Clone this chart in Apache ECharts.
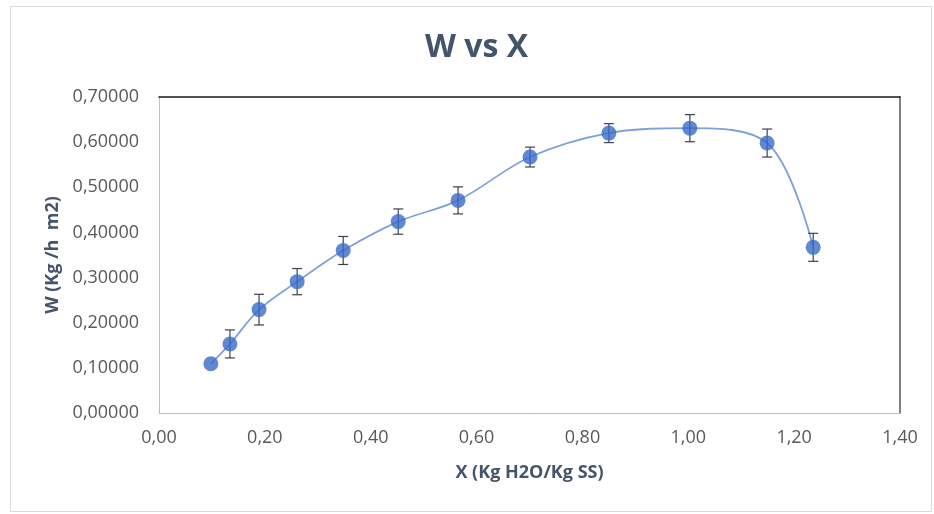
<!DOCTYPE html>
<html>
<head>
<meta charset="utf-8">
<script src="https://cdn.jsdelivr.net/npm/echarts@6/dist/echarts.min.js"></script>
<style>html,body{margin:0;padding:0;background:#fff}#c{width:934px;height:514px}</style>
</head>
<body>
<div id="c"></div>
<script>
var xVals = [0.098, 0.134, 0.189, 0.261, 0.348, 0.452, 0.565, 0.701, 0.850, 1.003, 1.149, 1.236];
var wVals = [0.109, 0.153, 0.229, 0.291, 0.360, 0.424, 0.471, 0.567, 0.620, 0.631, 0.598, 0.367];
var wErr  = [0.000, 0.031, 0.034, 0.029, 0.031, 0.028, 0.030, 0.022, 0.021, 0.030, 0.031, 0.031];
var xTicks = [0, 0.2, 0.4, 0.6, 0.8, 1.0, 1.2, 1.4];
var yTicks = [0, 0.1, 0.2, 0.3, 0.4, 0.5, 0.6, 0.7];

var pts = xVals.map(function (x, i) { return [x, wVals[i]]; });
var errData = xVals.map(function (x, i) { return [x, wVals[i] - wErr[i], wVals[i] + wErr[i]]; });

var chart = echarts.init(document.getElementById('c'));
var labelColor = '#595959';
var nameColor = '#44546A';
var font = 'Open Sans';
chart.setOption({
  animation: false,
  title: {
    text: 'W vs X', left: 420, top: 27,
    textStyle: { fontFamily: font, fontSize: 32, fontWeight: 'bold', color: nameColor }
  },
  graphic: [{
    type: 'rect', shape: { x: 10.5, y: 6.5, width: 921, height: 505 },
    style: { fill: 'none', stroke: '#d9d9d9', lineWidth: 1 }, silent: true
  }],
  grid: { left: 159, right: 34, top: 97, bottom: 101 },
  xAxis: [{
    type: 'value', min: 0, max: 1.4, interval: 0.2,
    name: 'X (Kg H2O/Kg SS)', nameLocation: 'middle', nameGap: 51,
    nameTextStyle: { fontFamily: font, fontSize: 18, fontWeight: 'bold', color: nameColor },
    axisLine: { show: true, lineStyle: { color: '#b4bfd4', width: 1 } },
    axisTick: { show: false }, splitLine: { show: false },
    axisLabel: { fontFamily: font, fontSize: 18, color: labelColor, margin: 16,
      formatter: function (v) { return v.toFixed(2).replace('.', ','); } }
  }, {
    type: 'value', position: 'top', min: 0, max: 1.4,
    axisLine: { show: true, onZero: false, lineStyle: { color: '#1a1a1a', width: 1.5 } },
    axisTick: { show: false }, axisLabel: { show: false }, splitLine: { show: false }
  }],
  yAxis: [{
    type: 'value', min: 0, max: 0.7, interval: 0.1,
    name: 'W (Kg /h  m2)', nameLocation: 'middle', nameGap: 97,
    nameTextStyle: { fontFamily: font, fontSize: 18, fontWeight: 'bold', color: nameColor },
    axisLine: { show: true, lineStyle: { color: '#b4bfd4', width: 1 } },
    axisTick: { show: false }, splitLine: { show: false },
    axisLabel: { fontFamily: font, fontSize: 18, color: labelColor, margin: 20,
      formatter: function (v) { return v.toFixed(5).replace('.', ','); } }
  }, {
    type: 'value', position: 'right', min: 0, max: 0.7,
    axisLine: { show: true, onZero: false, lineStyle: { color: '#555555', width: 1.5 } },
    axisTick: { show: false }, axisLabel: { show: false }, splitLine: { show: false }
  }],
  series: [{
    type: 'line', data: pts, smooth: 0.35,
    lineStyle: { color: '#7fa0dc', width: 1.8 },
    symbol: 'none', z: 2
  }, {
    type: 'custom', data: errData, z: 3,
    renderItem: function (params, api) {
      var x = api.value(0), lo = api.value(1), hi = api.value(2);
      if (hi - lo <= 0) return;
      var pLo = api.coord([x, lo]), pHi = api.coord([x, hi]);
      var cw = 5;
      var st = { stroke: '#3b4252', lineWidth: 1.2 };
      return { type: 'group', children: [
        { type: 'line', shape: { x1: pLo[0], y1: pLo[1], x2: pHi[0], y2: pHi[1] }, style: st },
        { type: 'line', shape: { x1: pLo[0] - cw, y1: pLo[1], x2: pLo[0] + cw, y2: pLo[1] }, style: st },
        { type: 'line', shape: { x1: pHi[0] - cw, y1: pHi[1], x2: pHi[0] + cw, y2: pHi[1] }, style: st }
      ] };
    }
  }, {
    type: 'scatter', data: pts, symbol: 'circle', symbolSize: 15, z: 4,
    itemStyle: { color: '#3a6bc8' }
  }]
});
</script>
</body>
</html>
